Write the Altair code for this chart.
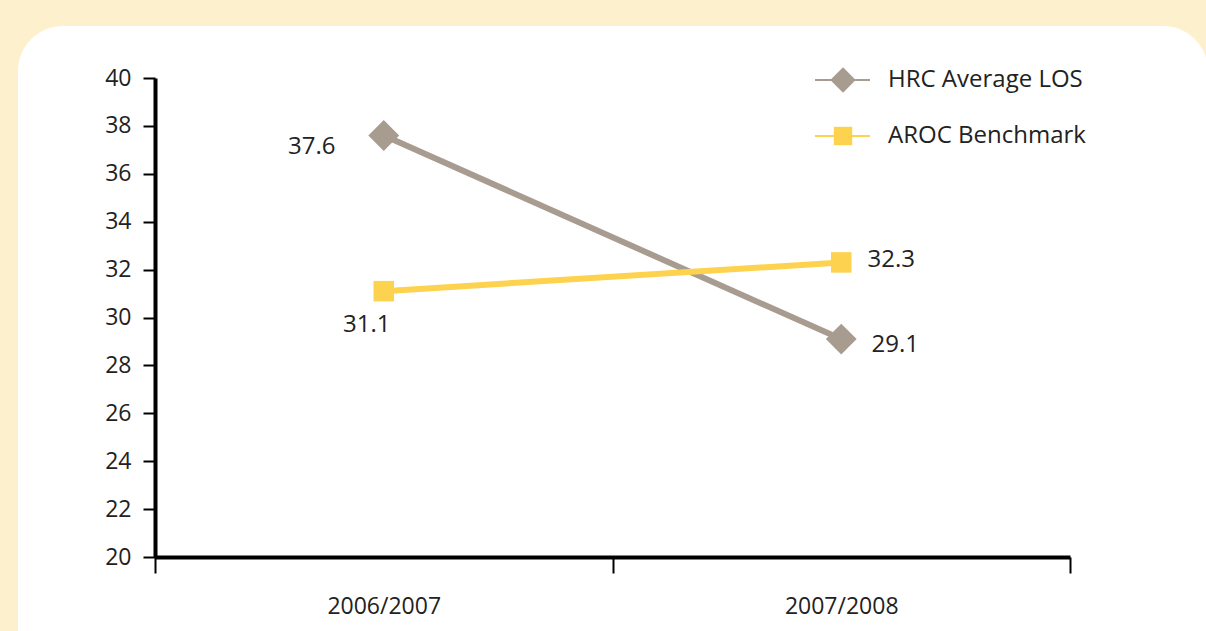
import altair as alt
import pandas as pd

years = ["2006/2007", "2007/2008"]
hrc = [37.6, 29.1]
aroc = [31.1, 32.3]
series_names = ["HRC Average LOS", "AROC Benchmark"]
y_ticks = list(range(20, 41, 2))

HRC_COLOR = "#A89C90"
AROC_COLOR = "#FDD24E"
FONT = "Open Sans"
FS = 24

df = pd.DataFrame({
    "year": years * 2,
    "series": [series_names[0]] * 2 + [series_names[1]] * 2,
    "value": hrc + aroc,
    "idx": [0, 1, 0, 1],
})
df["label"] = df["value"].map(lambda v: f"{v:.1f}")

one = pd.DataFrame({"a": [0]})

panel = alt.Chart(one).mark_rect(color="white", cornerRadius=45).encode(
    x=alt.value(-137), x2=alt.value(1053), y=alt.value(-52), y2=alt.value(640)
)

xenc = alt.X("year:N", sort=years, title=None,
             scale=alt.Scale(paddingInner=0, paddingOuter=0),
             axis=alt.Axis(tickBand="extent", labelAngle=0, tickSize=16, tickWidth=2,
                           domainWidth=4, labelPadding=22, labelFontSize=FS - 1,
                           labelFont=FONT, labelColor="#222222", domainColor="black",
                           tickColor="black", zindex=1))
yenc = alt.Y("value:Q", title=None,
             scale=alt.Scale(domain=[20, 40], nice=False, zero=False),
             axis=alt.Axis(values=y_ticks, grid=False, tickSize=12, tickWidth=2,
                           domainWidth=4, labelPadding=12, labelFontSize=FS - 1,
                           labelFont=FONT, labelColor="#222222", domainColor="black",
                           tickColor="black", zindex=1))

base = alt.Chart(df)

hrc_line = base.transform_filter(alt.datum.series == series_names[0]).mark_line(
    color=HRC_COLOR, strokeWidth=6).encode(x=xenc, y=yenc)
aroc_line = base.transform_filter(alt.datum.series == series_names[1]).mark_line(
    color=AROC_COLOR, strokeWidth=6).encode(x=xenc, y=yenc)
hrc_pts = base.transform_filter(alt.datum.series == series_names[0]).mark_point(
    shape="diamond", size=950, filled=True, opacity=1, color=HRC_COLOR).encode(x=xenc, y=yenc)
aroc_pts = base.transform_filter(alt.datum.series == series_names[1]).mark_point(
    shape="square", size=420, filled=True, opacity=1, color=AROC_COLOR).encode(x=xenc, y=yenc)

def lab(series, idx, dx, dy):
    return base.transform_filter(
        (alt.datum.series == series) & (alt.datum.idx == idx)
    ).mark_text(font=FONT, fontSize=FS, color="#222222", dx=dx, dy=dy).encode(
        x=alt.X("year:N", sort=years), y="value:Q", text="label:N")

labels = [
    lab(series_names[0], 0, -72, 12),
    lab(series_names[0], 1, 54, 6),
    lab(series_names[1], 0, -17, 34),
    lab(series_names[1], 1, 50, -2),
]

# legend
leg = []
for i, (name, col, shp, sz) in enumerate([
        (series_names[0], HRC_COLOR, "diamond", 650),
        (series_names[1], AROC_COLOR, "square", 340)]):
    yy = 2 + i * 56
    d = pd.DataFrame({"name": [name]})
    c = alt.Chart(d)
    leg.append(c.mark_rule(color=col, strokeWidth=2).encode(
        x=alt.value(660), x2=alt.value(715), y=alt.value(yy)))
    leg.append(c.mark_point(shape=shp, size=sz, filled=True, opacity=1, color=col).encode(
        x=alt.value(688), y=alt.value(yy)))
    leg.append(c.mark_text(font=FONT, fontSize=FS, color="#222222", align="left",
                           baseline="middle").encode(
        x=alt.value(733), y=alt.value(yy), text="name:N"))

chart = alt.layer(panel, hrc_line, aroc_line, hrc_pts, aroc_pts, *labels, *leg).properties(
    width=915, height=479,
    autosize=alt.AutoSizeParams(type="none"),
    padding={"left": 155, "top": 78, "right": 136, "bottom": 74},
    background="#FDF0CC",
).configure_view(stroke=None)

chart.save("out.html", embed_options={"renderer": "svg", "actions": False})
